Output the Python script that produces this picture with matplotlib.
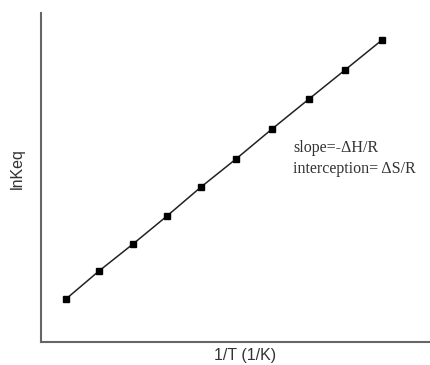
import matplotlib
matplotlib.use('Agg')
import matplotlib.pyplot as plt

# 1/T 和 lnKeq（无刻度，按图上位置读取的相对值）
inv_T = [25, 58, 92, 126, 160, 195, 231, 268, 304, 341]
ln_keq = [43, 71, 98, 126, 155, 183, 213, 243, 272, 302]

x_label = '1/T (1/K)'
y_label = 'lnKeq'
note_lines = ['slope=-\u0394H/R', 'interception= \u0394S/R']

fig = plt.figure(figsize=(4.3, 3.65), dpi=100)
ax = fig.add_axes([41 / 430, 23 / 365, 389 / 430, 329 / 365])

ax.plot(inv_T, ln_keq, '-', color='#222222', lw=1.1,
        marker='s', ms=5, mfc='black', mec='black')

ax.set_xlim(0, 389)
ax.set_ylim(0, 329)
ax.set_xticks([])
ax.set_yticks([])
for s in ['top', 'right']:
    ax.spines[s].set_visible(False)
for s in ['left', 'bottom']:
    ax.spines[s].set_color('#666666')
    ax.spines[s].set_linewidth(1.5)

ax.set_xlabel(x_label, fontsize=11.5, family='Liberation Sans', color='#333333')
ax.set_ylabel(y_label, fontsize=11.5, family='Liberation Sans', color='#333333')
ax.xaxis.set_label_coords(0.524, -0.04)
ax.yaxis.set_label_coords(-0.062, 0.526)
ax.xaxis.label.set_va('center')
ax.yaxis.label.set_va('center')

ax.text(252, 194, note_lines[0], fontsize=11.5, family='Liberation Serif',
        color='#333333', va='center', ha='left')
ax.text(252, 173, note_lines[1], fontsize=11.5, family='Liberation Serif',
        color='#333333', va='center', ha='left')

fig.savefig('out.png', dpi=100)
